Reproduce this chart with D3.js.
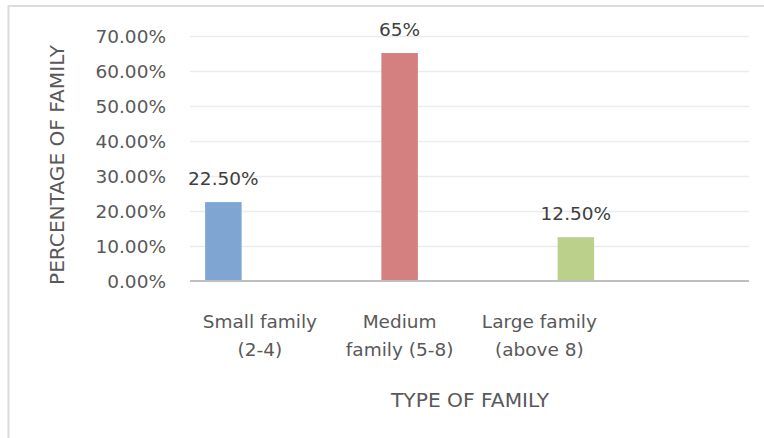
<!DOCTYPE html>
<html>
<head>
<meta charset="utf-8">
<script src="https://cdn.jsdelivr.net/npm/d3@7"></script>
<style>
  body { margin: 0; background: #fff; }
  svg { display: block; }
</style>
</head>
<body>
<script>
// data
var categories = ["Small family (2-4)", "Medium family (5-8)", "Large family (above 8)", ""];
var categoryLines = [["Small family", "(2-4)"], ["Medium", "family (5-8)"], ["Large family", "(above 8)"], []];
var seriesNames = ["Small", "Medium", "Large"];
var values = [22.5, 65, 12.5];
var valueLabels = ["22.50%", "65%", "12.50%"];
var colors = ["#7fa5d2", "#d47f80", "#bbd18b"];
var yTicks = [0, 10, 20, 30, 40, 50, 60, 70];

var width = 764, height = 438;
var svg = d3.select("body").append("svg")
  .attr("width", width)
  .attr("height", height);

// frame of the embedded chart
svg.append("path")
  .attr("d", "M8.5,438 V6 H764")
  .attr("fill", "none")
  .attr("stroke", "#dcdcdc")
  .attr("stroke-width", 2);

var plot = {left: 190, right: 749, top: 35.5, bottom: 281};

var x0 = d3.scaleBand()
  .domain(categories)
  .range([plot.left, plot.right]);

var x1 = d3.scaleBand()
  .domain(seriesNames)
  .range([0, x0.bandwidth()])
  .paddingInner(0)
  .paddingOuter(0.414);

var y = d3.scaleLinear()
  .domain([0, 70])
  .range([plot.bottom, plot.top]);

// gridlines
svg.append("g").selectAll("line")
  .data(yTicks.filter(function(d){ return d > 0; }))
  .enter().append("line")
  .attr("x1", plot.left).attr("x2", plot.right)
  .attr("y1", function(d){ return Math.round(y(d)) + 0.5; })
  .attr("y2", function(d){ return Math.round(y(d)) + 0.5; })
  .attr("stroke", "#ececec")
  .attr("stroke-width", 1.5);

// y tick labels
var fmt = d3.format(".2f");
svg.append("g").selectAll("text")
  .data(yTicks)
  .enter().append("text")
  .attr("x", 166)
  .attr("y", function(d){ return y(d) + 7; })
  .attr("text-anchor", "end")
  .attr("font-family", "DejaVu Sans")
  .attr("font-size", 18.5)
  .attr("fill", "#595959")
  .text(function(d){ return fmt(d) + "%"; });

// bars (each series only has a value in its own category)
var barData = values.map(function(v, i){
  return {cat: categories[i], series: seriesNames[i], value: v, label: valueLabels[i], color: colors[i]};
});

svg.append("g").selectAll("rect")
  .data(barData)
  .enter().append("rect")
  .attr("x", function(d){ return x0(d.cat) + x1(d.series); })
  .attr("y", function(d){ return y(d.value); })
  .attr("width", x1.bandwidth())
  .attr("height", function(d){ return plot.bottom - y(d.value); })
  .attr("fill", function(d){ return d.color; });

// data labels
svg.append("g").selectAll("text")
  .data(barData)
  .enter().append("text")
  .attr("x", function(d){ return x0(d.cat) + x1(d.series) + x1.bandwidth() / 2; })
  .attr("y", function(d){ return y(d.value) - 17; })
  .attr("text-anchor", "middle")
  .attr("font-family", "DejaVu Sans")
  .attr("font-size", 18.5)
  .attr("fill", "#404040")
  .text(function(d){ return d.label; });

// x axis line
svg.append("line")
  .attr("x1", plot.left).attr("x2", plot.right)
  .attr("y1", plot.bottom).attr("y2", plot.bottom)
  .attr("stroke", "#bfbfbf")
  .attr("stroke-width", 2);

// category labels
var catText = svg.append("g").selectAll("text")
  .data(categories)
  .enter().append("text")
  .attr("text-anchor", "middle")
  .attr("font-family", "DejaVu Sans")
  .attr("font-size", 18.5)
  .attr("fill", "#595959");

catText.each(function(d, i){
  var t = d3.select(this);
  categoryLines[i].forEach(function(line, j){
    t.append("tspan")
      .attr("x", x0(d) + x0.bandwidth() / 2)
      .attr("y", 328 + j * 28)
      .text(line);
  });
});

// axis titles
svg.append("text")
  .attr("transform", "translate(64,165) rotate(-90)")
  .attr("text-anchor", "middle")
  .attr("font-family", "DejaVu Sans")
  .attr("font-size", 19)
  .attr("textLength", 240)
  .attr("lengthAdjust", "spacingAndGlyphs")
  .attr("fill", "#595959")
  .text("PERCENTAGE OF FAMILY");

svg.append("text")
  .attr("x", 470)
  .attr("y", 407)
  .attr("text-anchor", "middle")
  .attr("font-family", "DejaVu Sans")
  .attr("font-size", 19)
  .attr("textLength", 158)
  .attr("lengthAdjust", "spacingAndGlyphs")
  .attr("fill", "#595959")
  .text("TYPE OF FAMILY");
</script>
</body>
</html>
